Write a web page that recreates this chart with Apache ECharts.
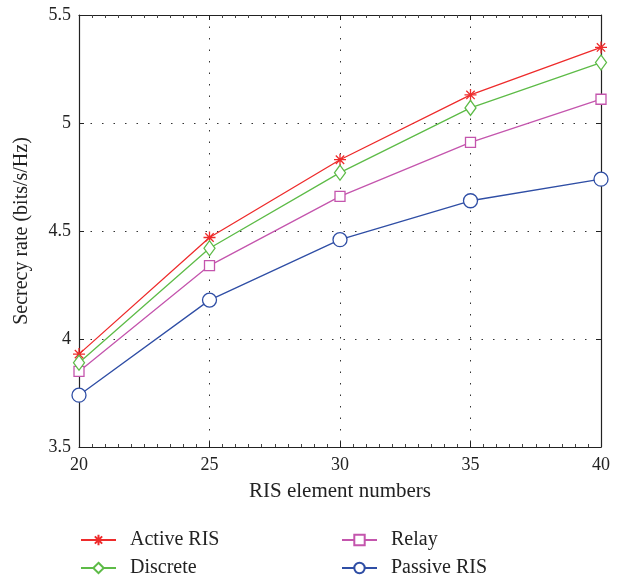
<!DOCTYPE html>
<html><head><meta charset="utf-8">
<script src="https://cdn.jsdelivr.net/npm/echarts@6/dist/echarts.min.js"></script>
<style>html,body{margin:0;padding:0;background:#fff}#c{width:625px;height:579px}</style>
</head><body><div id="c"></div>
<script>
const categories = [20, 25, 30, 35, 40];
const activeRIS = [3.93, 4.47, 4.83, 5.13, 5.35];
const discrete = [3.89, 4.42, 4.77, 5.07, 5.28];
const relay = [3.85, 4.34, 4.66, 4.91, 5.11];
const passiveRIS = [3.74, 4.18, 4.46, 4.64, 4.74];
const yTicks = [3.5, 4, 4.5, 5, 5.5];

const FONT = '"Liberation Serif","DejaVu Serif",serif';
const star = 'path://M0,-6L0,6M-6,0L6,0M-4.2,-4.2L4.2,4.2M-4.2,4.2L4.2,-4.2';
function pts(arr){ return categories.map((x,i)=>[x,arr[i]]); }
function mk(name, data, color, symbol, size){
  return {name, type:'line', data: pts(data), symbol, symbolSize:size,
    lineStyle:{color, width:1.3}, itemStyle:{color:'#fff', borderColor:color, borderWidth:1.3},
    emphasis:{disabled:true}, animation:false, z: 3};
}
const chart = echarts.init(document.getElementById('c'));
const axisCommon = {
  axisLine:{show:true, lineStyle:{color:'#222', width:1.2}},
  axisTick:{show:true, inside:true, length:5, lineStyle:{color:'#222'}},
};
const legendText = {fontFamily:FONT, fontSize:20, color:'#222', padding:[0,0,0,9]};
chart.setOption({
  animation:false,
  textStyle:{fontFamily:FONT},
  grid:{left:79, right:24, top:15, bottom:132, show:false},
  legend:[
    {data:['Active RIS','Discrete'], orient:'vertical', left:80, top:530, height:60, padding:0, itemWidth:35, itemHeight:13, itemGap:8,
     textStyle:legendText},
    {data:['Relay','Passive RIS'], orient:'vertical', left:341, top:530, height:60, padding:0, itemWidth:35, itemHeight:13, itemGap:8,
     textStyle:legendText}
  ],
  xAxis:[
    Object.assign({type:'value', min:20, max:40, interval:5, name:'RIS element numbers', nameLocation:'middle', nameGap:34,
      nameTextStyle:{fontFamily:FONT, fontSize:21, color:'#222'},
      axisLabel:{fontFamily:FONT, fontSize:18, color:'#222', margin:9},
      minorTick:{show:true, splitNumber:10, length:3, lineStyle:{color:'#444'}},
      splitLine:{show:true, lineStyle:{color:'#333', type:[1.5,10], width:1}}}, axisCommon),
    Object.assign({type:'value', position:'top', min:20, max:40, interval:5, axisLabel:{show:false},
      minorTick:{show:true, splitNumber:10, length:3, lineStyle:{color:'#444'}},
      splitLine:{show:false}}, axisCommon)
  ],
  yAxis:[
    Object.assign({type:'value', min:3.5, max:5.5, interval:0.5, name:'Secrecy rate (bits/s/Hz)', nameLocation:'middle', nameGap:47,
      nameTextStyle:{fontFamily:FONT, fontSize:20, color:'#222'},
      axisLabel:{fontFamily:FONT, fontSize:18, color:'#222', margin:8, formatter:v=>String(v)},
      splitLine:{show:true, lineStyle:{color:'#333', type:[1.5,10], width:1}}}, axisCommon),
    Object.assign({type:'value', position:'right', min:3.5, max:5.5, interval:0.5, axisLabel:{show:false},
      splitLine:{show:false}}, axisCommon)
  ],
  series:[
    mk('Active RIS', activeRIS, '#ee2b2b', star, 12),
    mk('Relay', relay, '#c455ad', 'rect', 10),
    mk('Discrete', discrete, '#5dbb47', 'diamond', [11,15]),
    mk('Passive RIS', passiveRIS, '#2f4ea5', 'circle', 14)
  ]
});
</script></body></html>
